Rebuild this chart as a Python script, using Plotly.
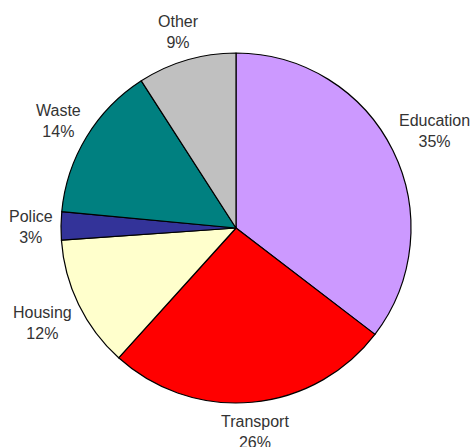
import math
import plotly.graph_objects as go

categories = ["Education", "Transport", "Housing", "Police", "Waste", "Other"]
values = [35.4, 26.3, 12.2, 2.6, 14.4, 9.1]
colors = ["#CC99FF", "#FF0000", "#FFFFCC", "#333399", "#008080", "#C0C0C0"]

FONT = "Liberation Sans, Arial, sans-serif"
FS = 16
W, H = 473, 447
ML, MR, MT, MB = 61, 62, 53, 44
PW, PH = W - ML - MR, H - MT - MB
R = min(PW, PH) / 2

fig = go.Figure(go.Pie(
    labels=categories,
    values=values,
    sort=False,
    direction="clockwise",
    rotation=0,
    marker=dict(colors=colors, line=dict(color="#000000", width=1.2)),
    textinfo="none",
    showlegend=False,
    hoverinfo="label+percent",
))

# outside labels centred on each slice's mid-angle (derived from the values)
total = sum(values)
cum = 0.0
annotations = []
for lab, v in zip(categories, values):
    mid = (cum + v / 2) / total * 2 * math.pi
    cum += v
    s, c = math.sin(mid), math.cos(mid)
    tw = 8.0 * len(lab)
    th = 39.0
    d = R + 6 + abs(s) * tw / 2 + abs(c) * th / 2
    annotations.append(dict(
        x=0.5 + s * d / PW, y=0.5 + (c * d - 1.5) / PH,
        xref="paper", yref="paper",
        text=f"{lab}<br>{round(v / total * 100)}%",
        showarrow=False, xanchor="center", yanchor="middle", align="center",
        font=dict(family=FONT, size=FS, color="#333333"),
    ))

fig.update_layout(
    width=W,
    height=H,
    margin=dict(l=ML, r=MR, t=MT, b=MB, autoexpand=False),
    paper_bgcolor="white",
    plot_bgcolor="white",
    annotations=annotations,
)

fig.write_html(
    "out.html",
    config={"displayModeBar": False},
    post_script="document.body.style.margin='0';document.body.style.overflow='hidden';",
)
